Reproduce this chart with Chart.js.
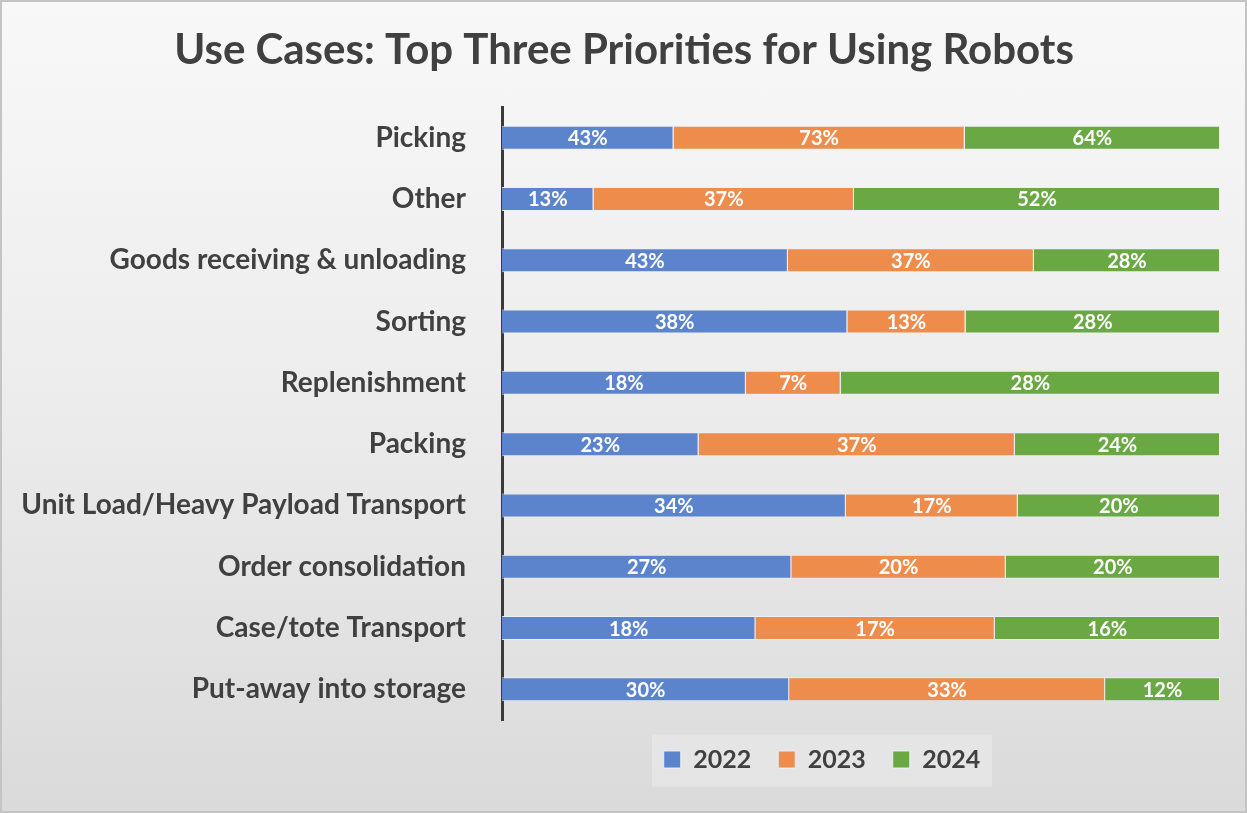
<!DOCTYPE html>
<html>
<head>
<meta charset="utf-8">
<script src="https://cdn.jsdelivr.net/npm/chart.js@4.4.1/dist/chart.umd.min.js"></script>
<style>
  html, body { margin: 0; padding: 0; }
  body { width: 1247px; height: 813px; overflow: hidden; }
  #wrap {
    position: relative; width: 1247px; height: 813px; box-sizing: border-box;
    border: 2px solid #c4c4c4;
    background: linear-gradient(to bottom, #f8f8f8 0%, #ececec 50%, #dadada 100%);
  }
  #c { position: absolute; left: -2px; top: -2px; }
</style>
</head>
<body>
<div id="wrap"><canvas id="c" width="1247" height="813"></canvas></div>
<script>
const categories = ["Picking", "Other", "Goods receiving & unloading", "Sorting", "Replenishment", "Packing", "Unit Load/Heavy Payload Transport", "Order consolidation", "Case/tote Transport", "Put-away into storage"];
const seriesNames = ["2022", "2023", "2024"];
const values2022 = [43, 13, 43, 38, 18, 23, 34, 27, 18, 30];
const values2023 = [73, 37, 37, 13, 7, 37, 17, 20, 17, 33];
const values2024 = [64, 52, 28, 28, 28, 24, 20, 20, 16, 12];
const seriesColors = ["#5b84cc", "#ee8c4c", "#6aa844"];

const rawSeries = [values2022, values2023, values2024];
const totals = categories.map((_, i) => rawSeries.reduce((s, arr) => s + arr[i], 0));
const shares = rawSeries.map(arr => arr.map((v, i) => v / totals[i] * 100));

const FONT = "Lato, 'Open Sans', sans-serif";

const labelPlugin = {
  id: 'segLabels',
  afterDatasetsDraw(chart) {
    const ctx = chart.ctx;
    ctx.save();
    ctx.font = "bold 20px " + FONT;
    ctx.fillStyle = "#ffffff";
    ctx.textAlign = "center";
    ctx.textBaseline = "middle";
    chart.data.datasets.forEach((ds, di) => {
      const meta = chart.getDatasetMeta(di);
      meta.data.forEach((el, i) => {
        const cx = (el.x + el.base) / 2;
        ctx.fillText(rawSeries[di][i] + "%", cx, el.y + 1);
      });
    });
    ctx.restore();
  }
};

const layoutPlugin = {
  id: 'blockShift',
  afterLayout(chart) {
    const lg = chart.legend;
    if (lg) { lg.left += 212; lg.right += 212; }
    const tb = chart.titleBlock;
    if (tb) { tb.left += 14; tb.right += 14; }
  },
  beforeDraw(chart) {
    const lg = chart.legend;
    if (!lg || !lg.legendHitBoxes || !lg.legendHitBoxes.length) return;
    const hb = lg.legendHitBoxes[0];
    const cy = hb.top + hb.height / 2;
    const cx = (lg.left + lg.right) / 2;
    const ctx = chart.ctx;
    ctx.save();
    ctx.fillStyle = "rgba(240,240,240,0.45)";
    ctx.fillRect(cx - 170, cy - 25, 340, 52);
    ctx.restore();
  }
};

new Chart(document.getElementById('c'), {
  type: 'bar',
  data: {
    labels: categories,
    datasets: seriesNames.map((name, k) => ({
      label: name,
      data: shares[k],
      backgroundColor: seriesColors[k],
      borderColor: "rgba(235,241,250,0.9)",
      borderWidth: 1,
      barPercentage: 0.8,
      categoryPercentage: 0.49
    }))
  },
  options: {
    indexAxis: 'y',
    responsive: false,
    animation: false,
    layout: { padding: { top: 0, left: 0, right: 27, bottom: 31 } },
    scales: {
      x: { stacked: true, min: 0, max: 100, display: false },
      y: {
        stacked: true,
        grid: { display: false },
        border: { display: true, color: "#3a3a3a", width: 3 },
        ticks: { color: "#404040", font: { family: FONT, size: 28, weight: 'bold' }, padding: 28 },
        afterFit(scale) { scale.width = 502; }
      }
    },
    plugins: {
      title: {
        display: true,
        text: "Use Cases: Top Three Priorities for Using Robots",
        color: "#404040",
        font: { family: FONT, size: 42, weight: 'bold' },
        padding: { top: 25, bottom: 31.6 }
      },
      legend: {
        position: 'bottom',
        labels: {
          color: "#404040",
          font: { family: FONT, size: 25, weight: 'bold' },
          boxWidth: 17, boxHeight: 17, padding: 27
        }
      },
      tooltip: { enabled: false }
    }
  },
  plugins: [layoutPlugin, labelPlugin]
});
</script>
</body>
</html>
